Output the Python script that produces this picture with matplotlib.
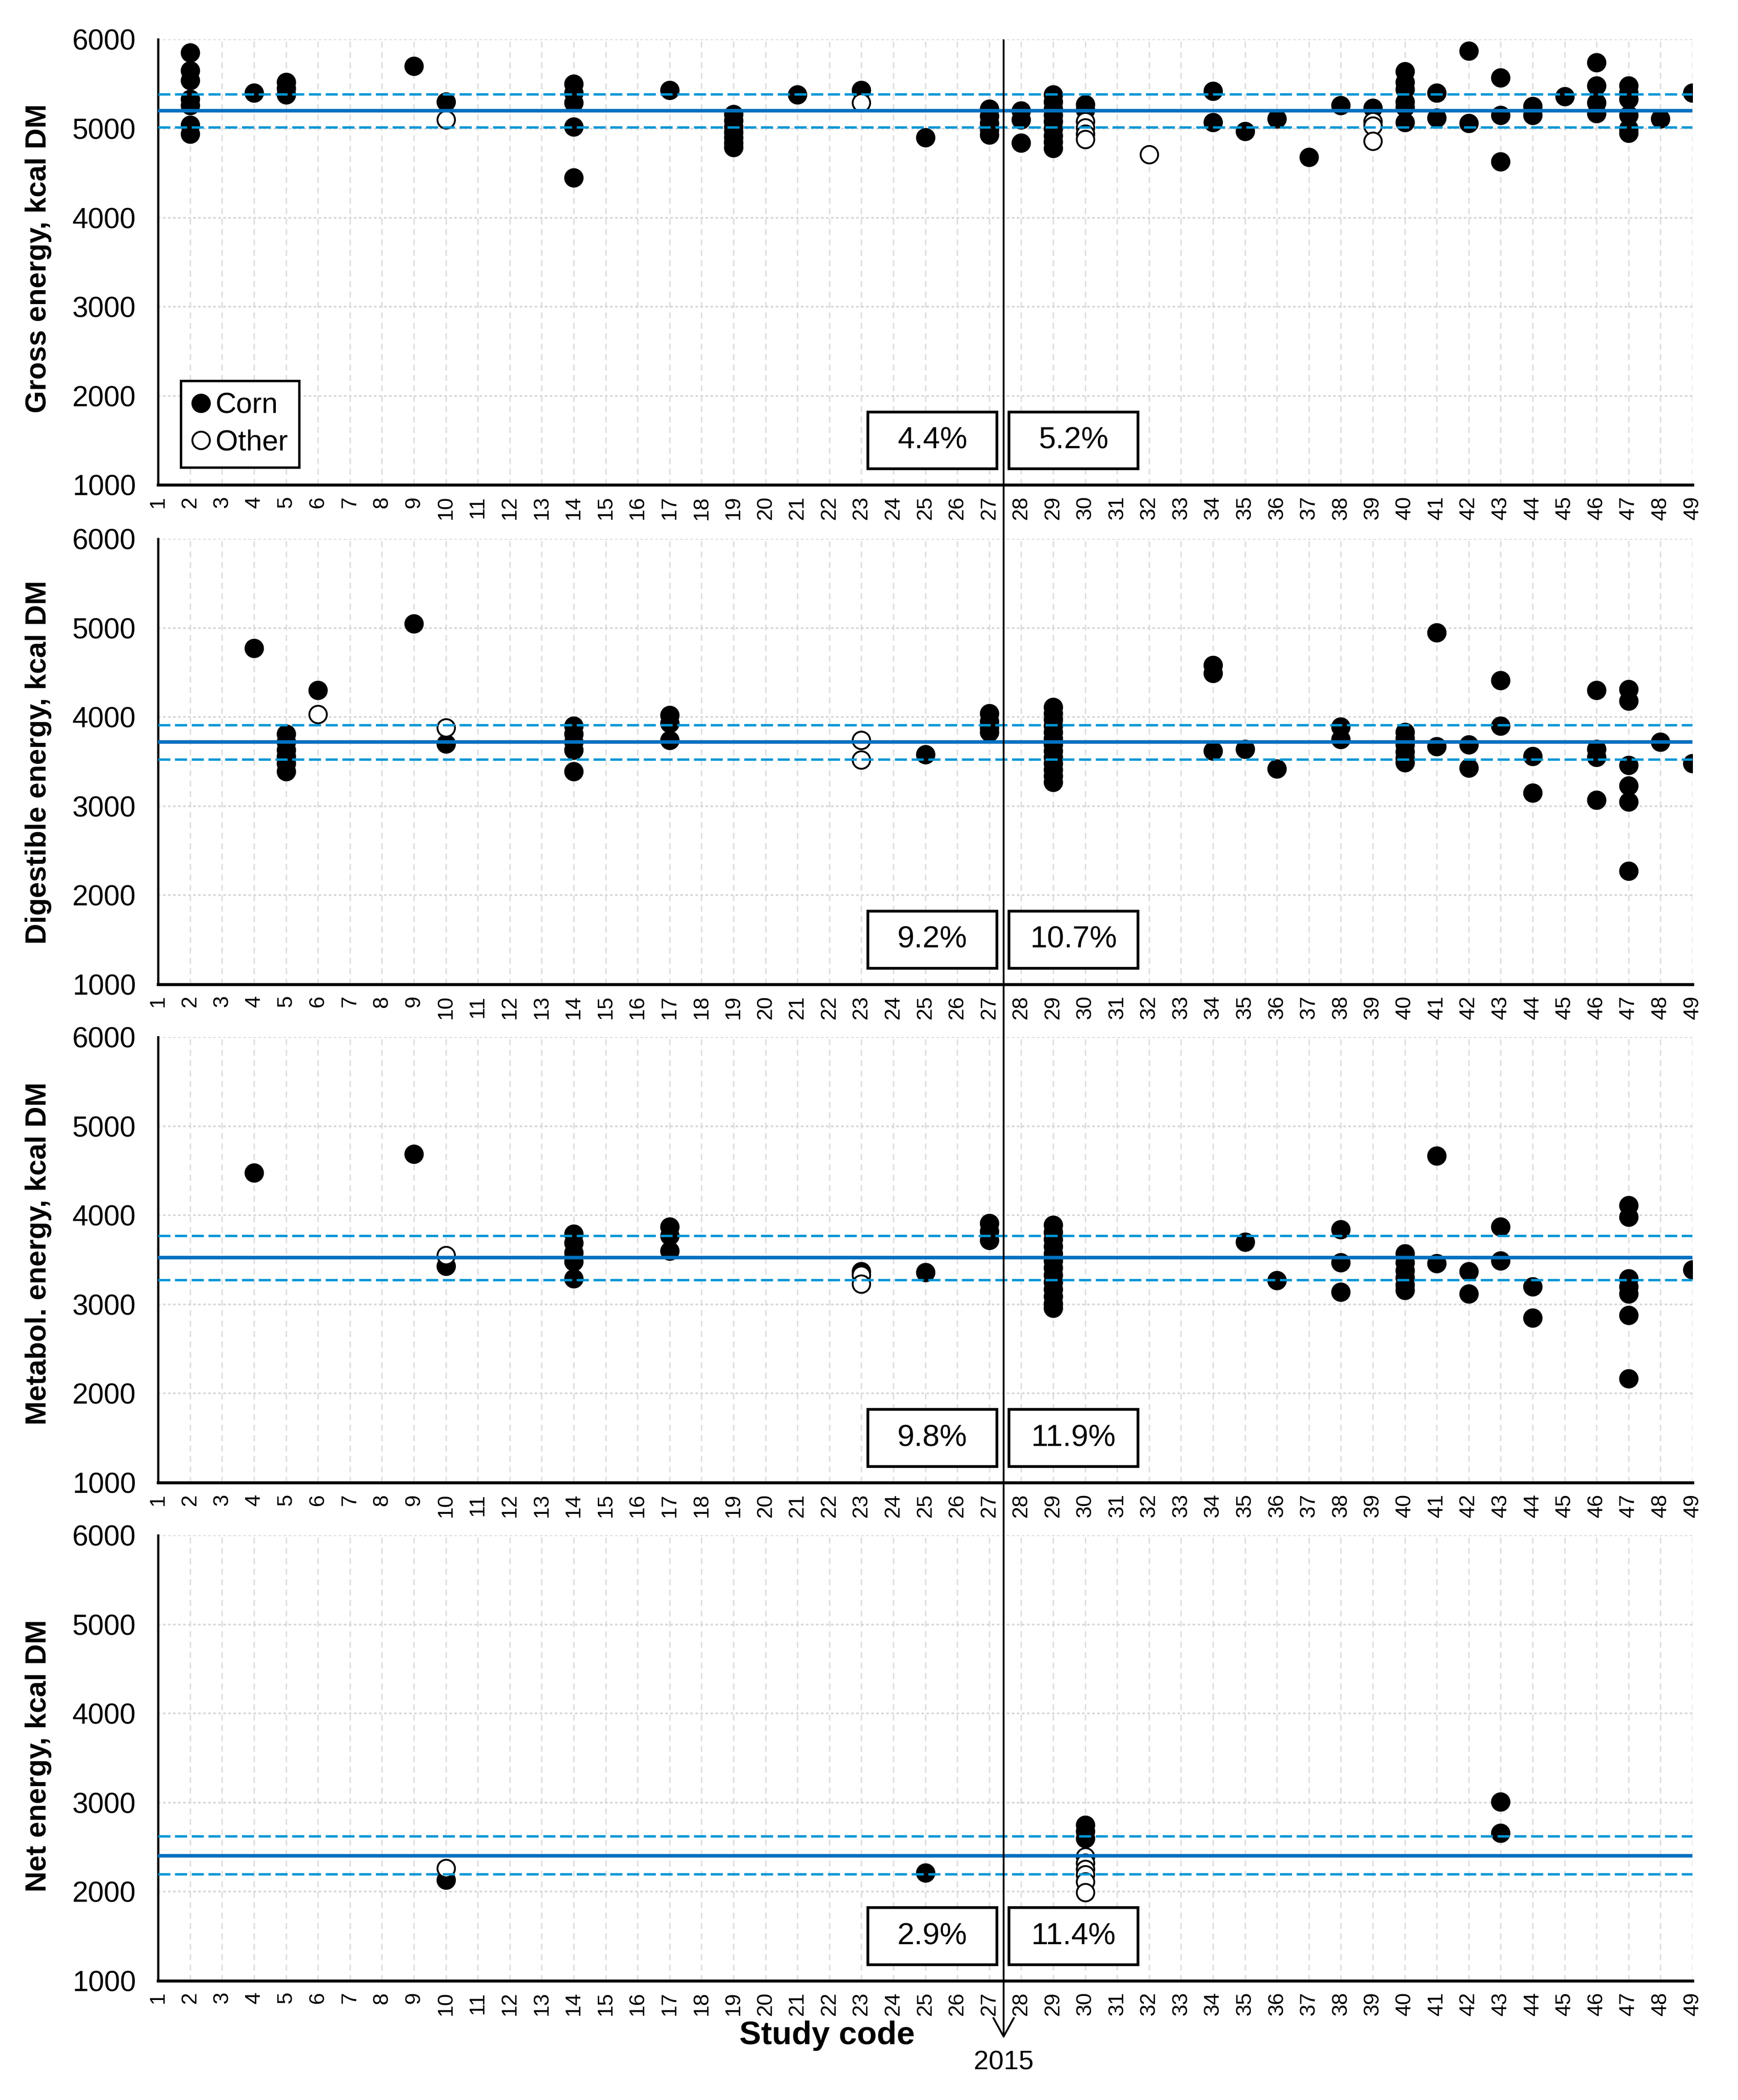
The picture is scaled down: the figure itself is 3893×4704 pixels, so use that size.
import matplotlib
matplotlib.use('Agg')
import matplotlib.pyplot as plt
import matplotlib.transforms as mtransforms
from matplotlib.patches import Rectangle, ArrowStyle
from matplotlib.lines import Line2D

plt.rcParams['font.family'] = ['Liberation Sans', 'DejaVu Sans']

# ---------------- data ----------------
study_codes = list(range(1, 50))
y_ticks = [1000, 2000, 3000, 4000, 5000, 6000]
split_code = 27.45
split_label = '2015'
x_title = 'Study code'
legend_labels = ['Corn', 'Other']

ylabels = ['Gross energy, kcal DM', 'Digestible energy, kcal DM',
           'Metabol. energy, kcal DM', 'Net energy, kcal DM']

# mean and +/- band per panel
means = [5200, 3720, 3525, 2400]
band_hi = [5385, 3910, 3773, 2625]
band_lo = [5015, 3525, 3274, 2195]
cv_before = ['4.4%', '9.2%', '9.8%', '2.9%']
cv_after = ['5.2%', '10.7%', '11.9%', '11.4%']

ge_corn = {2: [5850, 5650, 5540, 5330, 5260, 5040, 4940], 4: [5400],
           5: [5520, 5450, 5380], 9: [5700], 10: [5300],
           14: [5500, 5400, 5290, 5020, 4450], 17: [5430],
           19: [5160, 5090, 5020, 4960, 4900, 4840, 4790], 21: [5380],
           23: [5430], 25: [4900], 27: [5220, 5140, 5060, 4990, 4930],
           28: [5200, 5100, 4840],
           29: [5380, 5300, 5220, 5150, 5080, 5000, 4920, 4850, 4780],
           30: [5270, 5210], 34: [5420, 5070], 35: [4970], 36: [5110],
           37: [4680], 38: [5260], 39: [5230],
           40: [5640, 5520, 5440, 5300, 5240, 5070], 41: [5400, 5120],
           42: [5870, 5060], 43: [5570, 5150, 4630], 44: [5250, 5150],
           45: [5360], 46: [5740, 5480, 5290, 5170],
           47: [5480, 5400, 5330, 5150, 5000, 4950], 48: [5110], 49: [5400]}
ge_other = {10: [5100], 23: [5290], 30: [5080, 5010, 4940, 4880],
            32: [4710], 39: [5080, 5030, 4860]}

de_corn = {4: [4770], 5: [3810, 3720, 3630, 3560, 3480, 3390], 6: [4300],
           9: [5050], 10: [3700], 14: [3900, 3810, 3720, 3630, 3390],
           17: [4020, 3930, 3740], 25: [3580], 27: [4040, 3950, 3880, 3830],
           29: [4110, 4040, 3970, 3900, 3830, 3760, 3690, 3620, 3550, 3480,
                3410, 3340, 3270],
           34: [4580, 4490, 3620], 35: [3640], 36: [3420], 38: [3890, 3750],
           40: [3830, 3760, 3690, 3610, 3540, 3490], 41: [4950, 3670],
           42: [3690, 3430], 43: [4410, 3900], 44: [3560, 3150],
           46: [4300, 3640, 3550, 3070],
           47: [4310, 4180, 3460, 3230, 3050, 2270], 48: [3720], 49: [3480]}
de_other = {6: [4030], 10: [3880], 23: [3740, 3520]}

me_corn = {4: [4480], 9: [4690], 10: [3430],
           14: [3790, 3690, 3580, 3480, 3290], 17: [3870, 3770, 3600],
           23: [3370], 25: [3360], 27: [3910, 3820, 3720],
           29: [3890, 3810, 3730, 3650, 3570, 3490, 3410, 3330, 3250, 3170,
                3090, 3010, 2960],
           35: [3700], 36: [3270], 38: [3840, 3470, 3140],
           40: [3570, 3470, 3380, 3300, 3220, 3160], 41: [4670, 3460],
           42: [3370, 3120], 43: [3870, 3490], 44: [3200, 2850],
           47: [4110, 3980, 3290, 3200, 3120, 2880, 2170], 49: [3390]}
me_other = {10: [3550], 23: [3330, 3230]}

ne_corn = {10: [2130], 25: [2210], 30: [2750, 2680, 2600], 43: [3010, 2660]}
ne_other = {10: [2260], 30: [2390, 2320, 2250, 2190, 2110, 1990]}

corn_series = [ge_corn, de_corn, me_corn, ne_corn]
other_series = [ge_other, de_other, me_other, ne_other]

# ---------------- layout ----------------
W, H = 3893, 4704
fig = plt.figure(figsize=(W / 300, H / 300), dpi=300)

left, width, height = 0.0910, 0.8828, 0.2121
bottoms = [0.7691, 0.5313, 0.2940, 0.0568]
label_centers = [0.877, 0.637, 0.403, 0.164]

solid_col = '#0070C0'
dash_col = '#0096D6'
ms = 9.4


def expand(d):
    xs, ys = [], []
    for code, vals in d.items():
        for v in vals:
            xs.append(code)
            ys.append(v)
    return xs, ys


axes = []
for i in range(4):
    ax = fig.add_axes([left, bottoms[i], width, height])
    axes.append(ax)
    ax.set_xlim(study_codes[0], study_codes[-1])
    ax.set_ylim(y_ticks[0], y_ticks[-1])
    ax.set_xticks(study_codes)
    ax.set_xticklabels([str(c) for c in study_codes], rotation=90,
                       fontsize=11.5)
    ax.set_yticks(y_ticks)
    ax.set_yticklabels([str(t) for t in y_ticks], fontsize=15.4)
    ax.tick_params(axis='x', length=0, pad=6)
    ax.tick_params(axis='y', length=0, pad=12)
    for s in ['top', 'right']:
        ax.spines[s].set_visible(False)
    ax.spines['left'].set_linewidth(1.2)
    ax.spines['bottom'].set_linewidth(1.6)
    ax.grid(axis='x', color='#dedede', lw=0.8, ls=(0, (4, 3)))
    ax.grid(axis='y', color='#d6d6d6', lw=0.9, ls=(0, (1.5, 1.5)))
    ax.set_axisbelow(True)

    # reference lines
    ax.axhline(means[i], color=solid_col, lw=1.9, zorder=4)
    lw_d = 1.3
    for yb in (band_hi[i], band_lo[i]):
        ax.axhline(yb, color=dash_col, lw=lw_d,
                   ls=(0, (6.5 / lw_d, 2.5 / lw_d)), zorder=4)

    cx, cy = expand(corn_series[i])
    ox, oy = expand(other_series[i])
    ax.plot(cx, cy, ls='none', marker='o', ms=ms, mfc='black', mec='black',
            mew=1.0, zorder=3)
    ax.plot(ox, oy, ls='none', marker='o', ms=ms, mfc='white', mec='black',
            mew=1.0, zorder=3.5)

    # CV boxes
    trans = mtransforms.blended_transform_factory(ax.transData, ax.transAxes)
    box_b, box_h = 0.036, 0.128
    for (x0, x1, txt) in [(23.2, 27.24, cv_before[i]),
                          (27.62, 31.66, cv_after[i])]:
        ax.add_patch(Rectangle((x0, box_b), x1 - x0, box_h, transform=trans,
                               facecolor='white', edgecolor='black', lw=1.5,
                               zorder=6))
        ax.text((x0 + x1) / 2, box_b + box_h / 2, txt, transform=trans,
                ha='center', va='center', fontsize=16.5, zorder=7)

    fig.text(0.022, label_centers[i], ylabels[i], rotation=90,
             ha='center', va='center', fontsize=15.5, fontweight='bold')

# legend in first panel
handles = [Line2D([], [], ls='none', marker='o', ms=ms, mfc='black',
                  mec='black', mew=1.0),
           Line2D([], [], ls='none', marker='o', ms=ms, mfc='white',
                  mec='black', mew=1.0)]
leg = axes[0].legend(handles, legend_labels, loc='lower left',
                     bbox_to_anchor=(0.0148, 0.039), fontsize=15.5,
                     frameon=True, fancybox=False, framealpha=1,
                     edgecolor='black', handlelength=0.6, handletextpad=0.2,
                     borderpad=0.4, labelspacing=0.35, borderaxespad=0)
leg.get_frame().set_linewidth(1.3)

# split line with arrow
ax4 = axes[3]
ax4.annotate('', xy=(split_code, 0.0293), xycoords=('data', 'figure fraction'),
             xytext=(split_code, 0.9809),
             textcoords=('data', 'figure fraction'),
             arrowprops=dict(arrowstyle=ArrowStyle('->', head_length=1.0,
                                                   head_width=0.55),
                             lw=1.0, color='black', shrinkA=0, shrinkB=0,
                             mutation_scale=10),
             annotation_clip=False, zorder=10)
ax4.annotate(split_label, xy=(split_code, 0.0179),
             xycoords=('data', 'figure fraction'), ha='center', va='center',
             fontsize=14.5, annotation_clip=False)
ax4.annotate(x_title, xy=(21.92, 0.0306),
             xycoords=('data', 'figure fraction'), ha='center', va='center',
             fontsize=17.5, fontweight='bold', annotation_clip=False)

fig.savefig('out.png', dpi=300, facecolor='white')
